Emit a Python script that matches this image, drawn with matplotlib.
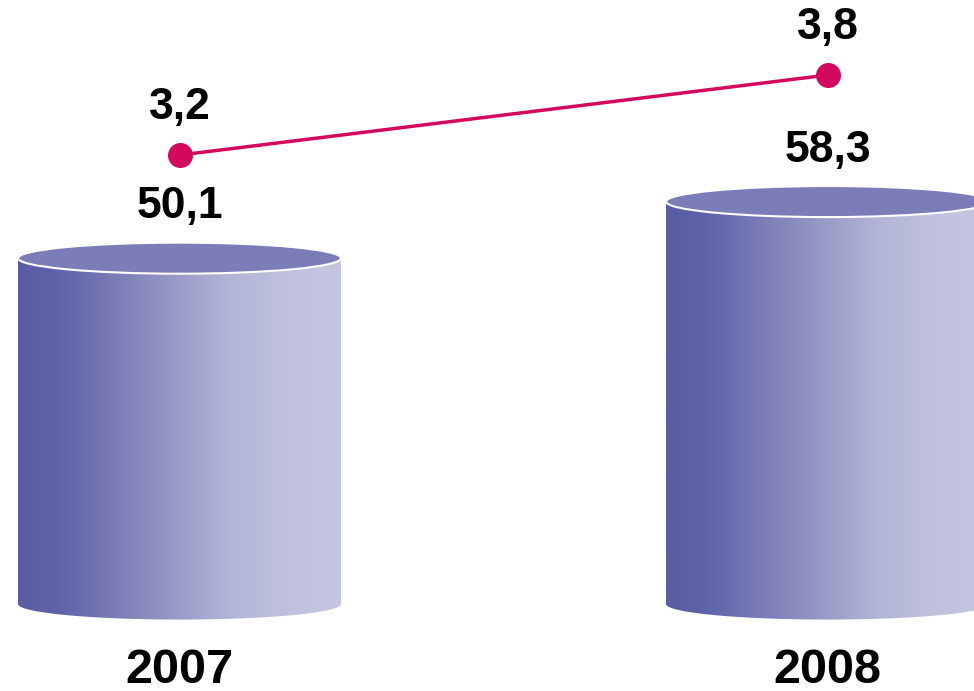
import numpy as np
import matplotlib
matplotlib.use('Agg')
import matplotlib.pyplot as plt
from matplotlib.colors import LinearSegmentedColormap
from matplotlib.patches import Ellipse, Polygon

years = ['2007', '2008']
bar_values = [50.1, 58.3]
line_values = [3.2, 3.8]
bar_labels = ['50,1', '58,3']
line_labels = ['3,2', '3,8']

plt.rcParams['font.family'] = ['Liberation Sans', 'DejaVu Sans']

fig = plt.figure(figsize=(9.74, 6.91), dpi=100)
ax = fig.add_axes([0, 0, 1, 1])
ax.set_xlim(-0.277, 1.226)
ax.set_ylim(-12.6, 87.5)
ax.axis('off')

cmap = LinearSegmentedColormap.from_list('cyl', [
    (0.0, '#595da5'), (0.12, '#5e62a8'), (0.4, '#8a8cbf'),
    (0.65, '#b2b4d6'), (0.85, '#c0c2de'), (1.0, '#c5c7e1')])
grad = np.linspace(0, 1, 256).reshape(1, -1)

width = 0.4985
ell_h = 4.5
for i, v in enumerate(bar_values):
    x0 = i - width / 2
    x1 = i + width / 2
    # body = rectangle + lower half of the bottom ellipse
    t = np.linspace(np.pi, 2 * np.pi, 60)
    bottom = np.column_stack([i + width / 2 * np.cos(t), ell_h / 2 * np.sin(t)])
    pts = np.vstack([[[x0, v]], bottom, [[x1, v]]])
    body = Polygon(pts, closed=True, facecolor='none', edgecolor='none')
    ax.add_patch(body)
    im = ax.imshow(grad, cmap=cmap, aspect='auto', extent=[x0, x1, -ell_h, v],
                   interpolation='bilinear', zorder=1)
    im.set_clip_path(body)
    top = Ellipse((i, v), width, ell_h, facecolor='#7a7db8', edgecolor='white',
                  linewidth=1.5, zorder=2)
    ax.add_patch(top)
    ax.annotate(bar_labels[i], (i, v), xytext=(0, 37), textcoords='offset points',
                ha='center', va='center', fontsize=32, fontweight='bold', color='black')
    ax.annotate(years[i], (i, 0), xytext=(0, -48), textcoords='offset points',
                ha='center', va='center', fontsize=35, fontweight='bold', color='black')

ax2 = ax.twinx()
ax2.set_ylim(-0.82, 4.363)
ax2.axis('off')
ax2.plot([0, 1], line_values, color='#d4085c', linewidth=2.5, marker='o',
         markersize=17, zorder=3)
for i, v in enumerate(line_values):
    ax2.annotate(line_labels[i], (i, v), xytext=(0, 34), textcoords='offset points',
                 ha='center', va='center', fontsize=32, fontweight='bold', color='black')

fig.savefig('out.png', dpi=100)
